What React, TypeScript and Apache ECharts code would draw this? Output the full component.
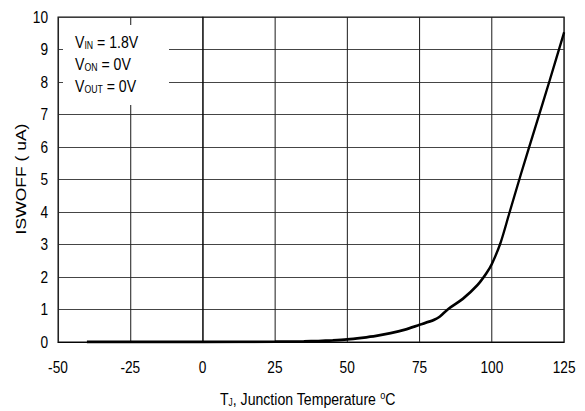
import React, { useEffect, useRef } from "react";
import * as echarts from "echarts";

const temps = [-40, -25, 0, 25, 35, 40, 45, 50, 55, 60, 65, 70, 75, 80, 82, 85, 90, 95, 98, 100, 103, 106, 110, 115, 120, 125];
const current = [0, 0, 0, 0.01, 0.02, 0.03, 0.05, 0.08, 0.13, 0.19, 0.27, 0.38, 0.53, 0.68, 0.78, 1.02, 1.33, 1.75, 2.1, 2.4, 3.05, 3.95, 5.15, 6.6, 8.05, 9.53];
const conditions = [
  ["V", "IN", " = 1.8V"],
  ["V", "ON", " = 0V"],
  ["V", "OUT", " = 0V"],
];

const FONT = "'Liberation Sans', Arial, sans-serif";
const SX = 0.83; // horizontal condensing of the whole drawing (narrow typeface look)
const W = 585 / SX;
const H = 411;
const px = (v: number) => v / SX;

export default function App() {
  const ref = useRef<HTMLDivElement>(null);
  useEffect(() => {
    if (!ref.current) return;
    const chart = echarts.init(ref.current, null, { renderer: "svg" });
    const data = temps.map((t, i) => [t, current[i]]);
    const condTexts = conditions.map((c, i) => ({
      type: "text",
      left: px(75),
      top: 33 + i * 22,
      z: 101,
      style: {
        text: `{a|${c[0]}}{s|${c[1]}}{a|${c[2]}}`,
        rich: {
          a: { fontSize: 17, fontFamily: FONT, fill: "#000", lineHeight: 18 },
          s: { fontSize: 10.5, fontFamily: FONT, fill: "#000", padding: [7, 0, 0, 0], lineHeight: 18 },
        },
      },
    }));
    chart.setOption({
      animation: false,
      grid: { left: px(58), right: px(21), top: 17, bottom: 69, show: true, borderColor: "#111", borderWidth: 1.2 },
      xAxis: {
        type: "value",
        min: -50,
        max: 125,
        interval: 25,
        axisLine: { show: true, lineStyle: { color: "#000", width: 1 } },
        axisTick: { show: false },
        axisLabel: { color: "#000", fontSize: 16.5, fontFamily: FONT, margin: 17 },
        splitLine: { show: true, lineStyle: { color: "#222", width: 1.25 } },
      },
      yAxis: {
        type: "value",
        min: 0,
        max: 10,
        interval: 1,
        axisLine: { show: true, lineStyle: { color: "#000", width: 1.25 } },
        axisTick: { show: false },
        axisLabel: { color: "#000", fontSize: 16.5, fontFamily: FONT, margin: px(10) },
        splitLine: { show: true, lineStyle: { color: "#333", width: 1 } },
      },
      graphic: [
        { type: "rect", shape: { x: px(63), y: 25, width: px(106), height: 80 }, style: { fill: "#fff" }, z: 100 },
        ...condTexts,
        {
          type: "text",
          left: px(220),
          top: 390,
          z: 101,
          style: {
            text: "{a|T}{s|J}{a|, Junction Temperature }{u|o}{a|C}",
            rich: {
              a: { fontSize: 17, fontFamily: FONT, fill: "#000", lineHeight: 18 },
              s: { fontSize: 10, fontFamily: FONT, fill: "#000", padding: [7, 0, 0, 0], lineHeight: 18 },
              u: { fontSize: 11, fontFamily: FONT, fill: "#000", padding: [0, 0, 7, 0], lineHeight: 18 },
            },
          },
        },
        {
          type: "text",
          x: px(21),
          y: 179,
          rotation: Math.PI / 2,
          z: 101,
          style: {
            text: "ISWOFF ( uA)",
            fontSize: 17.5,
            fontFamily: FONT,
            fill: "#000",
            align: "center",
            verticalAlign: "middle",
          },
        },
      ],
      series: [
        {
          type: "line",
          data,
          smooth: 0.3,
          showSymbol: false,
          lineStyle: { color: "#000", width: 2.8 },
          z: 50,
        },
      ],
    });
    return () => chart.dispose();
  }, []);
  return (
    <div style={{ position: "absolute", left: 0, top: 0, width: 585, height: 411, overflow: "hidden" }}>
      <div
        ref={ref}
        style={{ width: W, height: H, transform: `scaleX(${SX})`, transformOrigin: "0 0" }}
      />
    </div>
  );
}
